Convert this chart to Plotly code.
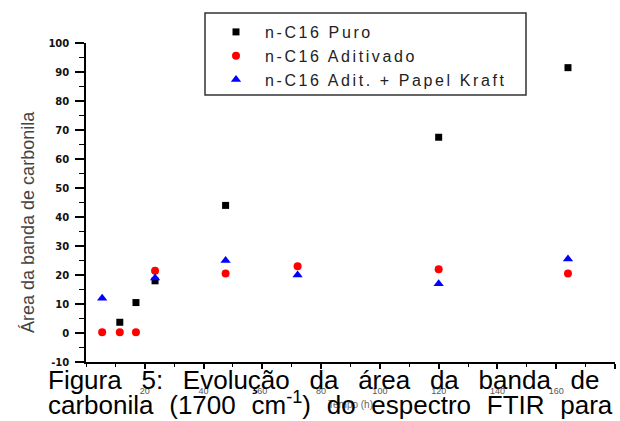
import plotly.graph_objects as go

# ---- data ----
t_puro = [11.5, 17, 23.5, 47.5, 120, 164]
y_puro = [3.7, 10.5, 18, 44, 67.5, 91.5]

t_adit = [5.5, 11.5, 17, 23.5, 47.5, 72, 120, 164]
y_adit = [0.3, 0.3, 0.3, 21.5, 20.5, 23, 22, 20.5]

t_kraft = [5.5, 23.5, 47.5, 72, 120, 164]
y_kraft = [12, 19, 25, 20, 17, 25.5]

names = ["n-C16 Puro", "n-C16 Aditivado", "n-C16 Adit. + Papel Kraft"]
y_title = "Área da banda de carbonila"
x_title = "Tempo (h)"
x_ticks = [20, 40, 60, 80, 100, 120, 140, 160, 180]
y_ticks = [-10, 0, 10, 20, 30, 40, 50, 60, 70, 80, 90, 100]
caption1 = "Figura 5: Evolução da área da banda de"
caption2 = "carbonila (1700 cm<sup>-1</sup>) do espectro FTIR para"

LS = "letter-spacing:2.6px"

fig = go.Figure()
fig.add_trace(go.Scatter(x=t_puro, y=y_puro, mode="markers",
                         name=f'<span style="{LS}">{names[0]}</span>',
                         marker=dict(symbol="square", size=7, color="black")))
fig.add_trace(go.Scatter(x=t_adit, y=y_adit, mode="markers",
                         name=f'<span style="{LS}">{names[1]}</span>',
                         marker=dict(symbol="circle", size=8, color="#ff0000")))
fig.add_trace(go.Scatter(x=t_kraft, y=y_kraft, mode="markers",
                         name=f'<span style="{LS}">{names[2]}</span>',
                         marker=dict(symbol="triangle-up", size=9, color="#0000ff")))

L, R, T, B = 86, 5, 43, 59
W, H = 620, 421
pw, ph = W - L - R, H - T - B

def px(xp):
    return (xp - L) / pw

def py(yp):
    return (H - B - yp) / ph

fig.update_layout(
    width=W, height=H,
    margin=dict(l=L, r=R, t=T, b=B, autoexpand=False),
    plot_bgcolor="white", paper_bgcolor="white",
    font=dict(family="Arial", color="black"),
    legend=dict(
        x=px(207), y=py(15), xanchor="left", yanchor="top",
        borderwidth=0, bgcolor="rgba(0,0,0,0)",
        font=dict(family="Arial", size=16, color="#222"),
        itemwidth=48, tracegroupgap=0,
    ),
    xaxis=dict(
        range=[0, 180], showgrid=False, zeroline=False,
        showline=True, linecolor="black", linewidth=1.5,
        ticks="outside", ticklen=5, tickwidth=1.5, tickcolor="black",
        tickvals=x_ticks, ticktext=[str(v) for v in x_ticks],
        tickfont=dict(family="Arial", size=9, color="#555"),
        ticklabelstandoff=14,
        minor=dict(ticks="outside", ticklen=3, tickwidth=1, tickcolor="black", dtick=10, tick0=0),
        title=dict(text=x_title, font=dict(family="Arial", size=10, color="#666"), standoff=6),
    ),
    yaxis=dict(
        range=[-10, 100], showgrid=False, zeroline=False,
        showline=True, linecolor="black", linewidth=1.5,
        ticks="outside", ticklen=9, tickwidth=1.5, tickcolor="black",
        tickvals=y_ticks, ticktext=[str(v) for v in y_ticks],
        tickfont=dict(family="DejaVu Sans", size=10, color="#111", weight="bold"),
        ticklabelstandoff=4,
        minor=dict(ticks="outside", ticklen=5, tickwidth=1, tickcolor="black", dtick=5, tick0=0),
    ),
)

# legend frame
fig.add_shape(type="rect", xref="paper", yref="paper",
              x0=px(205), x1=px(526), y0=py(95), y1=py(13),
              line=dict(color="#333", width=1.5), fillcolor="rgba(0,0,0,0)")

# y-axis title
fig.add_annotation(
    text=y_title, xref="paper", yref="paper", x=px(28), y=py(222),
    xanchor="center", yanchor="middle", showarrow=False, textangle=-90,
    font=dict(family="Arial", size=18, color="#444"),
)

fig.add_annotation(
    text=f'<span style="word-spacing:12.5px">{caption1}</span>',
    xref="paper", yref="paper", x=px(46), y=py(380),
    xanchor="left", yanchor="middle", showarrow=False, align="left",
    font=dict(family="Arial", size=26, color="black"),
)
fig.add_annotation(
    text=f'<span style="word-spacing:8.5px">{caption2}</span>',
    xref="paper", yref="paper", x=px(46), y=py(403),
    xanchor="left", yanchor="middle", showarrow=False, align="left",
    font=dict(family="Arial", size=26, color="black"),
)

fig.write_html("out.html")
